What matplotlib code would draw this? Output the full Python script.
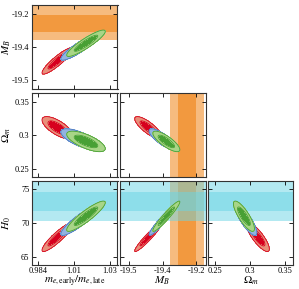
import numpy as np
import matplotlib
matplotlib.use("Agg")
import matplotlib.pyplot as plt

plt.rcParams['font.family'] = ['Liberation Serif', 'DejaVu Serif']
plt.rcParams['mathtext.fontset'] = 'stix'

# parameter order: m_e ratio, M_B, Omega_m, H0
labels = [r'$m_{e,\rm early}/m_{e,\rm late}$', r'$M_B$', r'$\Omega_m$', r'$H_0$']
limits = [(0.9797, 1.0351), (-19.54, -19.16), (0.2386, 0.3628), (63.8, 76.2)]
ticks = [[0.984, 1.007, 1.03], [-19.5, -19.35, -19.2], [0.25, 0.3, 0.35], [65, 70, 75]]
ticklabels = [['0.984', '1.01', '1.03'], ['-19.5', '-19.4', '-19.2'],
              ['0.25', '0.3', '0.35'], ['65', '70', '75']]

# pairwise correlations (i, j) -> rho
corr = {(0, 1): 0.9, (0, 2): -0.7, (0, 3): 0.9,
        (1, 2): -0.8, (1, 3): 0.95, (2, 3): -0.82}

# three chains: mean and sigma for each parameter
red_mean = [0.9964, -19.413, 0.3115, 67.9]
red_std = [0.0040, 0.024, 0.0066, 0.85]
blue_mean = [1.011, -19.35, 0.2945, 70.4]
blue_std = [0.0050, 0.024, 0.0062, 0.9]
green_mean = [1.0148, -19.333, 0.2912, 71.0]
green_std = [0.0050, 0.024, 0.0061, 0.9]

chains = [(red_mean, red_std, '#d7001e', '#e88f7a'),
          (blue_mean, blue_std, '#4b79c1', '#92b3e0'),
          (green_mean, green_std, '#48a035', '#a8d587')]

# priors shown as bands: M_B (SH0ES calibration) and H0
mb_band = (-19.242, 0.038)
h0_band = (73.2, 1.42)
orange = '#ef7800'
cyan = '#69d5e5'

fig = plt.figure(figsize=(2.99, 2.89), dpi=100)
W, H = 299.0, 289.0
col_left = [31.5, 119.5, 207.5]
row_top = [5, 93, 181]
pw, ph = 86, 84


def band(ax, mean, sig, color, vertical):
    f = ax.axvspan if vertical else ax.axhspan
    f(mean - 2 * sig, mean + 2 * sig, color=color, alpha=0.5, lw=0, zorder=0)
    f(mean - sig, mean + sig, color=color, alpha=0.5, lw=0, zorder=0)


for row in range(3):
    py = row + 1
    for col in range(row + 1):
        px = col
        ax = fig.add_axes([col_left[col] / W, 1 - (row_top[row] + ph) / H, pw / W, ph / H])
        ax.set_xlim(limits[px])
        ax.set_ylim(limits[py])

        if px == 1:
            band(ax, *mb_band, orange, True)
        if py == 1:
            band(ax, *mb_band, orange, False)
        if py == 3:
            band(ax, *h0_band, cyan, False)

        xg = np.linspace(*limits[px], 300)
        yg = np.linspace(*limits[py], 300)
        X, Y = np.meshgrid(xg, yg)
        rho = corr[(px, py)]
        for mean, std, dark, light in chains:
            u = (X - mean[px]) / std[px]
            v = (Y - mean[py]) / std[py]
            chi2 = (u ** 2 - 2 * rho * u * v + v ** 2) / (1 - rho ** 2)
            ax.contourf(X, Y, chi2, levels=[0, 2.30, 6.18], colors=[dark, light], zorder=2)
            ax.contour(X, Y, chi2, levels=[2.30, 6.18], colors=[dark], linewidths=0.6, zorder=2)

        ax.set_xticks(ticks[px])
        ax.set_yticks(ticks[py])
        ax.tick_params(direction='in', top=True, right=True, length=3, width=0.6,
                       labelsize=6, pad=1.5)
        for s in ax.spines.values():
            s.set_linewidth(0.8)
            s.set_color('#333333')
        if row == 2:
            ax.set_xticklabels(ticklabels[px])
            ax.set_xlabel(labels[px], fontsize=8)
            ax.xaxis.set_label_coords(0.5, -0.11)
        else:
            ax.set_xticklabels([])
        if col == 0:
            ax.set_yticklabels(ticklabels[py])
            ax.set_ylabel(labels[py], fontsize=8)
            ax.yaxis.set_label_coords(-0.215, 0.5)
        else:
            ax.set_yticklabels([])

fig.savefig('out.png', dpi=100)
